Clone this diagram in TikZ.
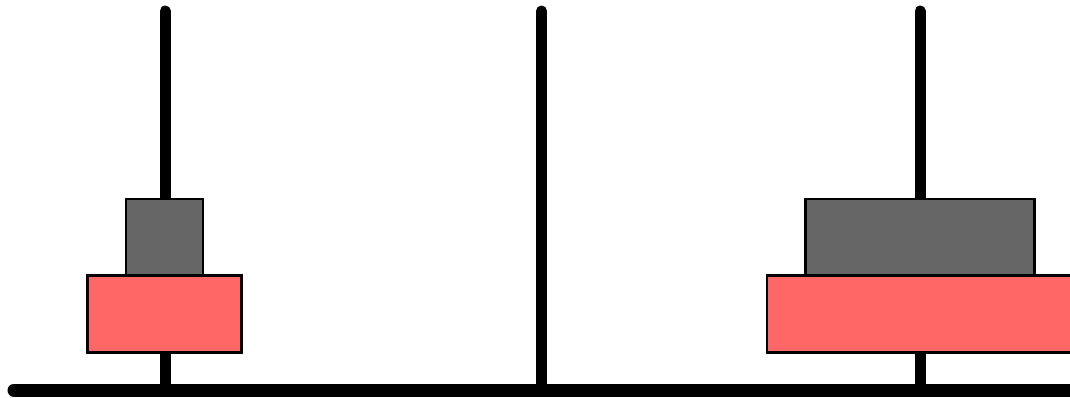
\documentclass[tikz,border=0pt]{standalone}
\begin{document}
\begin{tikzpicture}[x=1pt,y=-1pt,
  peg/.style={line width=11pt, line cap=round},
  disk/.style={draw=black, line width=2.5pt, rectangle, inner sep=0pt, outer sep=0pt},
  reddisk/.style={disk, fill={rgb,255:red,255;green,102;blue,102}},
  graydisk/.style={disk, fill={rgb,255:red,102;green,102;blue,102}},
  base/.style={line width=13pt, line cap=round}]
\useasboundingbox (0,0) rectangle (1070,397);
\clip (0,0) rectangle (1070,397);
% peg tops and bottoms
\coordinate (t1) at (165,11);
\coordinate (b1) at (165,390);
\coordinate (t2) at (541.5,11);
\coordinate (b2) at (541.5,390);
\coordinate (t3) at (920,11);
\coordinate (b3) at (920,390);
\coordinate (bl) at (14,390);
\coordinate (br) at (1085,390);
\draw[peg] (t1) -- (b1);
\draw[peg] (t2) -- (b2);
\draw[peg] (t3) -- (b3);
\draw[base] (bl) -- (br);
% disks
\node[reddisk, minimum width=154pt, minimum height=77pt] (r1) at (164.5,314) {};
\node[graydisk, minimum width=77pt, minimum height=76pt] (g1) at (164.5,237) {};
\node[reddisk, minimum width=306pt, minimum height=77pt] (r3) at (920,314) {};
\node[graydisk, minimum width=229pt, minimum height=76pt] (g3) at (920,237) {};
\end{tikzpicture}
\end{document}
